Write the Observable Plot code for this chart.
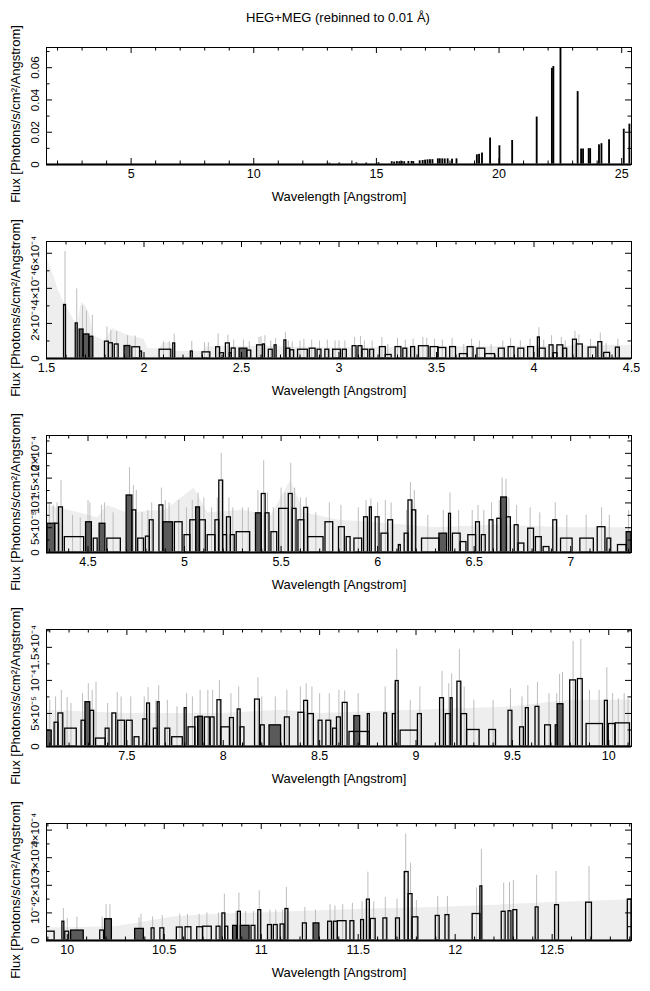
<!DOCTYPE html>
<html><head><meta charset="utf-8">
<script src="https://cdn.jsdelivr.net/npm/d3@7"></script>
<script src="https://cdn.jsdelivr.net/npm/@observablehq/plot@0.6"></script>
<style>
html,body{margin:0;padding:0;background:#fff;overflow:hidden;width:650px;height:991px}
#title{height:30px;box-sizing:border-box;padding-top:10px;line-height:15px;text-align:center;padding-left:26px;font:13px "Liberation Sans",Arial,sans-serif;color:#000}
svg{display:block}
</style></head><body>
<div id="title">HEG+MEG (rebinned to 0.01 Å)</div>
<div id="charts"></div>
<script>
const xTitle = "Wavelength [Angstrom]";
const yTitle = "Flux [Photons/s/cm²/Angstrom]";

// ---------- Panel 1 ----------
const p1XDomain = [1.55, 25.4];
const p1YDomain = [0, 0.0725];
const p1XTicks = [5, 10, 15, 20, 25];
const p1XMinor = [2,3,4,6,7,8,9,11,12,13,14,16,17,18,19,21,22,23,24];
const p1YTicks = [0, 0.02, 0.04, 0.06];
const p1YLabels = ["0", "0.02", "0.04", "0.06"];
const p1YMinor = [0.01, 0.03, 0.05, 0.07];
const p1Segs = [
  [13.1,13.11,0.0003,0],[13.5,13.51,0.0004,0],[14.2,14.21,0.0005,0],[14.6,14.61,0.0004,0],[15.1,15.11,0.0006,0],
  [15.64,15.65,0.0012,0],[15.74,15.75,0.001,0],[15.85,15.86,0.0013,0],[15.95,15.96,0.0012,0],[16.05,16.06,0.0014,0],[16.15,16.16,0.0012,0],
  [16.32,16.33,0.0014,0],[16.45,16.46,0.0014,0],[16.52,16.53,0.0013,0],
  [16.78,16.79,0.0018,0],[16.9,16.91,0.002,0],[17.0,17.01,0.0022,0],[17.1,17.11,0.0024,0],[17.2,17.21,0.0025,0],[17.3,17.31,0.0025,0],
  [17.52,17.53,0.003,0],[17.6,17.61,0.003,0],[17.7,17.71,0.003,0],[17.8,17.81,0.0029,0],[17.92,17.93,0.003,0],
  [18.1,18.11,0.0028,0],[18.28,18.29,0.003,0],
  [19.11,19.12,0.0055,0],[19.2,19.21,0.0058,0],[19.32,19.33,0.0066,0],[19.65,19.66,0.0159,0],[20.03,20.04,0.0111,0],
  [20.55,20.56,0.0144,0],[21.55,21.56,0.0289,0],[22.17,22.18,0.0591,0],[22.23,22.24,0.0602,0],[22.52,22.53,0.0715,0],
  [23.22,23.23,0.0447,0],[23.36,23.37,0.0091,0],[23.44,23.45,0.0091,0],[23.67,23.68,0.0093,0],[23.73,23.74,0.0093,0],
  [24.09,24.1,0.0117,0],[24.19,24.2,0.0124,0],[24.5,24.51,0.0148,0],[25.1,25.11,0.0214,0],[25.33,25.34,0.0245,0]
];
const p1Err = [];
const p1Env = [];

// ---------- Panel 2 ----------
const p2XDomain = [1.5, 4.5];
const p2YDomain = [0, 6.67e-4];
const p2XTicks = [1.5, 2, 2.5, 3, 3.5, 4, 4.5];
const p2XMinor = [1.6,1.7,1.8,1.9,2.1,2.2,2.3,2.4,2.6,2.7,2.8,2.9,3.1,3.2,3.3,3.4,3.6,3.7,3.8,3.9,4.1,4.2,4.3,4.4];
const p2YTicks = [0, 2e-4, 4e-4, 6e-4];
const p2YLabels = ["0", "2×10⁻⁴", "4×10⁻⁴", "6×10⁻⁴"];
const p2YMinor = [1e-4, 3e-4, 5e-4];
const p2Segs = [
  [1.59,1.60,3.05e-4,0],[1.65,1.66,2.0e-4,0],[1.67,1.69,1.65e-4,1],[1.69,1.72,1.37e-4,1],[1.72,1.74,1.24e-4,1],
  [1.80,1.82,0.96e-4,0],[1.82,1.84,0.87e-4,0],[1.85,1.87,0.80e-4,0],[1.90,1.93,0.71e-4,1],[1.94,1.98,0.64e-4,0],[1.98,1.99,0.4e-4,0],
  [2.08,2.14,0.5e-4,0],[2.15,2.16,0.86e-4,0],[2.24,2.25,0.4e-4,0],[2.30,2.34,0.35e-4,0],[2.37,2.39,0.64e-4,0],[2.39,2.41,0.3e-4,0],
  [2.42,2.44,0.86e-4,0],[2.44,2.45,0.3e-4,0],[2.45,2.47,0.57e-4,0],[2.49,2.53,0.56e-4,1],[2.53,2.55,0.45e-4,0],[2.58,2.61,0.75e-4,0],
  [2.61,2.62,0.8e-4,0],[2.64,2.66,0.5e-4,0],[2.67,2.68,0.75e-4,0],[2.72,2.73,1.03e-4,0],[2.73,2.75,0.56e-4,0],[2.75,2.77,0.47e-4,0],
  [2.79,2.84,0.5e-4,0],[2.85,2.88,0.56e-4,0],[2.89,2.91,0.5e-4,0],[2.93,2.95,0.5e-4,0],[2.97,3.01,0.5e-4,0],[3.02,3.04,0.5e-4,0],
  [3.07,3.09,0.7e-4,0],[3.10,3.12,0.7e-4,0],[3.12,3.15,0.5e-4,0],[3.16,3.18,0.5e-4,0],[3.21,3.24,0.65e-4,0],[3.24,3.27,0.2e-4,0],
  [3.29,3.32,0.65e-4,0],[3.33,3.35,0.56e-4,0],[3.37,3.39,0.65e-4,0],[3.41,3.46,0.7e-4,0],[3.47,3.51,0.65e-4,0],[3.51,3.55,0.6e-4,0],
  [3.57,3.60,0.65e-4,0],[3.62,3.66,0.25e-4,0],[3.66,3.69,0.65e-4,0],[3.71,3.75,0.56e-4,0],[3.75,3.80,0.25e-4,0],[3.82,3.85,0.56e-4,0],
  [3.87,3.90,0.65e-4,0],[3.92,3.95,0.56e-4,0],[3.97,4.00,0.65e-4,0],[4.02,4.03,1.2e-4,0],[4.03,4.06,0.56e-4,0],[4.08,4.10,0.75e-4,0],
  [4.10,4.12,0.3e-4,0],[4.12,4.15,0.75e-4,0],[4.15,4.17,0.56e-4,0],[4.20,4.22,1.07e-4,0],[4.22,4.25,0.8e-4,0],[4.28,4.32,0.62e-4,0],
  [4.33,4.35,0.93e-4,0],[4.36,4.39,0.32e-4,0],[4.42,4.44,0.62e-4,0]
];
const p2Err = [
  [1.595,6.1e-4],[1.655,3.97e-4],[1.685,3.0e-4],[1.705,2.7e-4],[1.735,2.46e-4],[1.81,1.8e-4],[1.83,1.6e-4],[1.86,1.53e-4],
  [1.915,1.3e-4],[1.955,1.28e-4],[2.155,1.39e-4],[2.245,0.97e-4],[2.38,1.4e-4],[2.43,1.33e-4],[2.6,1.25e-4],[2.62,1.3e-4],
  [2.725,1.5e-4],[2.82,1.1e-4],[2.94,1.05e-4],[3.08,1.2e-4],[3.11,1.25e-4],[3.22,1.2e-4],[3.3,1.15e-4],[3.43,1.2e-4],
  [3.58,1.15e-4],[3.68,1.1e-4],[3.88,1.15e-4],[4.025,1.75e-4],[4.09,1.3e-4],[4.21,1.55e-4],[4.23,1.35e-4],[4.34,1.45e-4],[4.43,1.1e-4],
  [2.1,0.95e-4],[2.13,0.95e-4],[2.31,0.9e-4],[2.33,0.9e-4],[2.46,1.05e-4],[2.51,1.05e-4],[2.54,0.95e-4],[2.59,1.2e-4],[2.65,1.0e-4],
  [2.675,1.15e-4],[2.74,1.0e-4],[2.76,0.95e-4],[2.8,1.0e-4],[2.86,1.05e-4],[2.9,1.0e-4],[2.98,1.0e-4],[3.0,1.0e-4],[3.03,1.0e-4],
  [3.13,1.0e-4],[3.17,1.0e-4],[3.25,0.8e-4],[3.34,1.05e-4],[3.38,1.1e-4],[3.45,1.15e-4],[3.49,1.1e-4],[3.53,1.05e-4],[3.64,0.8e-4],
  [3.72,1.0e-4],[3.78,0.8e-4],[3.84,1.0e-4],[3.93,1.0e-4],[3.98,1.1e-4],[4.05,1.05e-4],[4.14,1.2e-4],[4.16,1.0e-4],[4.29,1.1e-4],[4.37,0.85e-4]
];
const p2Env = [
  [1.5,5.8e-4],[1.52,5.2e-4],[1.54,4.6e-4],[1.56,3.9e-4],[1.58,3.4e-4],[1.6,3.0e-4],[1.62,2.6e-4],[1.64,2.2e-4],[1.66,2.0e-4],
  [1.68,3.2e-4],[1.7,3.0e-4],[1.72,2.6e-4],[1.74,1.3e-4],[1.8,1.0e-4],[1.84,1.7e-4],[1.9,1.4e-4],[1.96,1.2e-4],[2.0,1.1e-4],
  [2.02,0.55e-4],[2.08,0.55e-4],[2.1,0.9e-4],[2.14,0.85e-4],[2.16,0.4e-4],[2.3,0.4e-4],[2.32,0.65e-4],[2.6,0.7e-4],[3.0,0.6e-4],
  [3.5,0.65e-4],[4.0,0.7e-4],[4.5,0.75e-4]
];

// ---------- Panel 3 ----------
const p3XDomain = [4.285, 7.315];
const p3YDomain = [0, 2.36e-4];
const p3XTicks = [4.5, 5, 5.5, 6, 6.5, 7];
const p3XMinor = [4.3,4.4,4.6,4.7,4.8,4.9,5.1,5.2,5.3,5.4,5.6,5.7,5.8,5.9,6.1,6.2,6.3,6.4,6.6,6.7,6.8,6.9,7.1,7.2,7.3];
const p3YTicks = [0, 5e-5, 1e-4, 1.5e-4, 2e-4];
const p3YLabels = ["0", "5×10⁻⁵", "10⁻⁴", "1.5×10⁻⁴", "2×10⁻⁴"];
const p3YMinor = [2.5e-5, 7.5e-5, 1.25e-4, 1.75e-4, 2.25e-4];
const p3Segs = [
  [4.29,4.33,0.58e-4,1],[4.33,4.35,0.58e-4,0],[4.35,4.37,0.91e-4,0],[4.38,4.48,0.31e-4,0],[4.49,4.52,0.61e-4,1],[4.53,4.55,0.28e-4,0],
  [4.56,4.59,0.58e-4,1],[4.60,4.67,0.28e-4,0],[4.70,4.73,1.15e-4,1],[4.73,4.75,0.85e-4,0],[4.76,4.79,0.28e-4,0],[4.80,4.82,0.32e-4,0],
  [4.82,4.84,0.65e-4,0],[4.87,4.89,0.95e-4,0],[4.89,4.94,0.61e-4,1],[4.95,4.99,0.61e-4,0],[5.00,5.03,0.35e-4,0],[5.03,5.06,0.65e-4,0],
  [5.06,5.08,0.91e-4,1],[5.08,5.11,0.65e-4,0],[5.12,5.16,0.35e-4,0],[5.16,5.18,0.65e-4,0],[5.18,5.20,1.45e-4,0],[5.20,5.22,0.35e-4,0],
  [5.22,5.24,0.71e-4,0],[5.24,5.26,0.35e-4,0],[5.27,5.34,0.41e-4,0],[5.37,5.40,0.79e-4,1],[5.40,5.42,1.18e-4,0],[5.42,5.44,0.79e-4,0],
  [5.45,5.48,0.41e-4,0],[5.49,5.54,0.88e-4,0],[5.54,5.56,1.18e-4,0],[5.56,5.58,0.88e-4,0],[5.59,5.62,0.65e-4,0],[5.62,5.64,0.9e-4,0],
  [5.64,5.72,0.31e-4,0],[5.73,5.77,0.61e-4,0],[5.80,5.83,0.51e-4,0],[5.84,5.86,0.31e-4,0],[5.88,5.92,0.28e-4,0],[5.93,5.95,0.71e-4,0],
  [5.96,5.97,0.91e-4,0],[5.99,6.01,0.71e-4,0],[6.02,6.055,0.38e-4,0],[6.055,6.08,0.65e-4,0],[6.11,6.12,0.15e-4,0],[6.14,6.16,0.38e-4,0],
  [6.16,6.18,1.05e-4,0],[6.18,6.20,0.85e-4,0],[6.23,6.32,0.28e-4,0],[6.32,6.36,0.38e-4,1],[6.37,6.38,0.78e-4,0],[6.39,6.43,0.38e-4,0],
  [6.43,6.46,0.21e-4,0],[6.47,6.51,0.35e-4,0],[6.51,6.53,0.61e-4,0],[6.54,6.56,0.35e-4,0],[6.58,6.60,0.65e-4,0],[6.62,6.64,0.68e-4,0],
  [6.64,6.67,1.11e-4,1],[6.67,6.69,0.71e-4,0],[6.71,6.73,0.55e-4,0],[6.73,6.76,0.18e-4,0],[6.78,6.81,0.48e-4,0],[6.82,6.85,0.31e-4,0],
  [6.86,6.89,0.11e-4,0],[6.91,6.93,0.65e-4,0],[6.95,7.01,0.28e-4,0],[7.05,7.12,0.28e-4,0],[7.14,7.18,0.51e-4,0],[7.19,7.21,0.28e-4,0],
  [7.245,7.29,0.15e-4,0],[7.29,7.315,0.41e-4,1]
];
const p3Err = [
  [4.36,1.45e-4],[4.5,1.05e-4],[4.57,0.95e-4],[4.715,1.71e-4],[4.735,1.35e-4],[4.83,1.0e-4],[4.88,1.3e-4],[4.92,1.0e-4],
  [5.04,1.05e-4],[5.07,1.2e-4],[5.19,2.0e-4],[5.23,1.1e-4],[5.38,1.25e-4],[5.41,1.85e-4],[5.43,1.2e-4],[5.52,1.2e-4],
  [5.55,1.8e-4],[5.63,1.1e-4],[5.75,1.0e-4],[5.94,1.05e-4],[5.965,1.08e-4],[6.0,1.0e-4],[6.17,1.41e-4],[6.19,1.25e-4],
  [6.375,1.2e-4],[6.52,0.95e-4],[6.59,1.0e-4],[6.645,1.5e-4],[6.665,1.48e-4],[6.68,1.1e-4],[6.72,0.95e-4],[6.92,1.0e-4],[7.16,0.9e-4],
  [4.3,1.0e-4],[4.32,0.95e-4],[4.34,1.0e-4],[4.42,0.75e-4],[4.46,0.7e-4],[4.51,1.0e-4],[4.585,1.0e-4],[4.63,0.8e-4],[4.75,1.25e-4],
  [4.78,0.8e-4],[4.81,0.85e-4],[4.9,1.05e-4],[4.97,1.05e-4],[5.01,0.9e-4],[5.1,1.1e-4],[5.14,0.9e-4],[5.17,1.1e-4],[5.25,0.9e-4],
  [5.3,0.9e-4],[5.33,0.9e-4],[5.46,0.9e-4],[5.5,1.3e-4],[5.57,1.3e-4],[5.6,1.1e-4],[5.68,0.8e-4],[5.81,0.95e-4],[5.9,0.9e-4],
  [6.04,1.05e-4],[6.07,1.0e-4],[6.15,0.85e-4],[6.26,0.75e-4],[6.34,0.85e-4],[6.42,0.85e-4],[6.49,0.85e-4],[6.55,0.85e-4],[6.63,1.05e-4],
  [6.79,0.9e-4],[6.84,0.8e-4],[6.98,0.75e-4],[7.08,0.75e-4],[7.2,0.75e-4],[7.3,0.85e-4]
];
const p3Env = [
  [4.285,0.95e-4],[4.4,0.85e-4],[4.55,0.7e-4],[4.6,0.95e-4],[4.7,0.8e-4],[4.9,0.85e-4],[5.05,1.3e-4],[5.12,0.8e-4],[5.3,0.85e-4],
  [5.45,0.75e-4],[5.55,1.45e-4],[5.62,0.8e-4],[5.8,0.65e-4],[6.0,0.6e-4],[6.3,0.5e-4],[6.6,0.55e-4],[7.0,0.5e-4],[7.315,0.5e-4]
];

// ---------- Panel 4 ----------
const p4XDomain = [7.083, 10.118];
const p4YDomain = [0, 1.77e-4];
const p4XTicks = [7.5, 8, 8.5, 9, 9.5, 10];
const p4XMinor = [7.1,7.2,7.3,7.4,7.6,7.7,7.8,7.9,8.1,8.2,8.3,8.4,8.6,8.7,8.8,8.9,9.1,9.2,9.3,9.4,9.6,9.7,9.8,9.9,10.1];
const p4YTicks = [0, 5e-5, 1e-4, 1.5e-4];
const p4YLabels = ["0", "5×10⁻⁵", "10⁻⁴", "1.5×10⁻⁴"];
const p4YMinor = [2.5e-5, 7.5e-5, 1.25e-4, 1.75e-4];
const p4Segs = [
  [7.083,7.11,0.24e-4,1],[7.125,7.145,0.36e-4,0],[7.145,7.17,0.5e-4,0],[7.18,7.24,0.27e-4,0],[7.265,7.285,0.39e-4,0],[7.285,7.31,0.67e-4,1],
  [7.31,7.33,0.54e-4,0],[7.34,7.39,0.12e-4,0],[7.39,7.41,0.27e-4,0],[7.425,7.445,0.5e-4,0],[7.455,7.49,0.39e-4,0],[7.5,7.53,0.39e-4,0],
  [7.54,7.565,0.14e-4,0],[7.585,7.605,0.41e-4,0],[7.605,7.62,0.65e-4,0],[7.64,7.66,0.27e-4,0],[7.66,7.67,0.67e-4,0],[7.70,7.725,0.27e-4,0],
  [7.735,7.79,0.14e-4,0],[7.80,7.81,0.58e-4,0],[7.82,7.855,0.29e-4,0],[7.855,7.87,0.44e-4,0],[7.87,7.895,0.45e-4,1],[7.905,7.93,0.44e-4,0],
  [7.935,7.955,0.44e-4,0],[7.97,7.99,0.7e-4,0],[7.99,8.035,0.29e-4,0],[8.035,8.055,0.43e-4,0],[8.075,8.09,0.56e-4,0],[8.09,8.11,0.29e-4,0],
  [8.165,8.19,0.71e-4,0],[8.195,8.215,0.32e-4,0],[8.24,8.30,0.32e-4,1],[8.32,8.345,0.44e-4,0],[8.39,8.42,0.51e-4,0],[8.42,8.44,0.69e-4,0],
  [8.44,8.47,0.49e-4,0],[8.495,8.515,0.39e-4,0],[8.535,8.56,0.39e-4,0],[8.57,8.59,0.27e-4,0],[8.59,8.61,0.44e-4,0],[8.62,8.645,0.66e-4,0],
  [8.655,8.76,0.22e-4,0],[8.68,8.71,0.46e-4,1],[8.75,8.76,0.49e-4,0],[8.835,8.85,0.5e-4,0],[8.88,8.895,0.49e-4,0],[8.895,8.91,0.99e-4,0],
  [8.92,9.01,0.24e-4,0],[9.01,9.03,0.49e-4,0],[9.125,9.145,0.73e-4,0],[9.155,9.18,0.49e-4,0],[9.18,9.19,0.73e-4,0],[9.215,9.235,0.98e-4,0],
  [9.235,9.265,0.49e-4,0],[9.265,9.33,0.25e-4,0],[9.38,9.415,0.25e-4,0],[9.48,9.50,0.54e-4,0],[9.54,9.56,0.29e-4,0],[9.57,9.585,0.58e-4,0],
  [9.62,9.64,0.6e-4,0],[9.67,9.70,0.32e-4,0],[9.725,9.735,0.32e-4,0],[9.735,9.765,0.64e-4,1],[9.80,9.83,1.0e-4,0],[9.84,9.865,1.02e-4,0],
  [9.885,9.97,0.34e-4,0],[9.98,9.995,0.69e-4,0],[10.0,10.035,0.34e-4,0],[10.035,10.11,0.35e-4,0]
];
const p4Err = [
  [7.19,0.74e-4],[7.3,0.95e-4],[7.34,0.97e-4],[7.45,0.82e-4],[7.61,0.89e-4],[7.665,0.92e-4],[7.81,0.8e-4],[7.98,1.0e-4],[8.18,1.04e-4],
  [8.43,0.95e-4],[8.63,0.84e-4],[8.9,1.47e-4],[9.135,1.14e-4],[9.185,1.1e-4],[9.225,1.47e-4],[9.49,0.87e-4],[9.58,0.92e-4],
  [9.63,0.97e-4],[9.745,1.09e-4],[9.76,1.12e-4],[9.815,1.59e-4],[9.855,1.62e-4],[9.99,1.19e-4],[10.05,0.72e-4],[10.1,0.72e-4],
  [7.1,0.7e-4],[7.13,0.75e-4],[7.16,0.85e-4],[7.21,0.65e-4],[7.27,0.8e-4],[7.32,0.85e-4],[7.4,0.65e-4],[7.47,0.75e-4],[7.52,0.75e-4],
  [7.59,0.75e-4],[7.65,0.7e-4],[7.71,0.7e-4],[7.76,0.6e-4],[7.84,0.75e-4],[7.88,0.85e-4],[7.92,0.85e-4],[7.945,0.85e-4],[8.04,0.8e-4],
  [8.08,0.9e-4],[8.2,0.75e-4],[8.27,0.75e-4],[8.33,0.85e-4],[8.4,0.9e-4],[8.46,0.9e-4],[8.5,0.8e-4],[8.55,0.8e-4],[8.6,0.85e-4],
  [8.7,0.8e-4],[8.84,0.9e-4],[8.89,0.95e-4],[8.97,0.7e-4],[9.02,0.9e-4],[9.17,0.95e-4],[9.25,0.9e-4],[9.3,0.7e-4],[9.4,0.7e-4],
  [9.55,0.75e-4],[9.69,0.8e-4],[9.73,0.8e-4],[9.9,0.85e-4],[9.95,0.85e-4],[10.02,0.8e-4],[10.08,0.8e-4]
];
const p4Env = [
  [7.083,0.55e-4],[7.5,0.5e-4],[8.0,0.5e-4],[8.3,0.55e-4],[8.5,0.5e-4],[9.0,0.55e-4],[9.5,0.6e-4],[9.8,0.7e-4],[10.118,0.7e-4]
];

// ---------- Panel 5 ----------
const p5XDomain = [9.893, 12.909];
const p5YDomain = [0, 4.24e-4];
const p5XTicks = [10, 10.5, 11, 11.5, 12, 12.5];
const p5XMinor = [9.9,10.1,10.2,10.3,10.4,10.6,10.7,10.8,10.9,11.1,11.2,11.3,11.4,11.6,11.7,11.8,11.9,12.1,12.2,12.3,12.4,12.6,12.7,12.8,12.9];
const p5YTicks = [0, 1e-4, 2e-4, 3e-4, 4e-4];
const p5YLabels = ["0", "10⁻⁴", "2×10⁻⁴", "3×10⁻⁴", "4×10⁻⁴"];
const p5YMinor = [5e-5, 1.5e-4, 2.5e-4, 3.5e-4];
const p5Segs = [
  [9.893,9.935,0.32e-4,0],[9.975,9.985,0.68e-4,0],[9.99,10.01,0.32e-4,0],[10.02,10.085,0.36e-4,1],[10.17,10.19,0.36e-4,0],[10.195,10.23,0.77e-4,1],
  [10.35,10.395,0.42e-4,1],[10.435,10.45,0.44e-4,0],[10.48,10.50,0.44e-4,0],[10.565,10.595,0.47e-4,0],[10.61,10.64,0.48e-4,0],[10.67,10.70,0.48e-4,0],
  [10.70,10.745,0.5e-4,0],[10.77,10.79,0.5e-4,0],[10.80,10.815,0.98e-4,0],[10.815,10.83,0.5e-4,0],[10.855,10.875,0.53e-4,1],[10.88,10.895,1.04e-4,0],
  [10.895,10.94,0.53e-4,1],[10.95,10.97,0.53e-4,0],[10.985,11.0,1.1e-4,0],[11.035,11.055,0.56e-4,0],[11.065,11.085,0.56e-4,0],[11.1,11.12,0.58e-4,0],
  [11.125,11.14,1.14e-4,0],[11.215,11.235,0.62e-4,0],[11.27,11.30,0.62e-4,1],[11.345,11.365,0.68e-4,0],[11.375,11.395,0.68e-4,0],[11.395,11.44,0.7e-4,0],
  [11.46,11.48,0.7e-4,0],[11.515,11.53,0.74e-4,0],[11.545,11.56,1.48e-4,0],[11.565,11.59,0.78e-4,0],[11.63,11.65,0.8e-4,0],[11.695,11.715,0.8e-4,0],
  [11.74,11.76,2.48e-4,0],[11.76,11.78,1.68e-4,0],[11.78,11.81,0.84e-4,0],[11.90,11.92,0.89e-4,0],[11.95,11.97,0.92e-4,0],[12.09,12.13,0.96e-4,0],
  [12.13,12.14,1.96e-4,0],[12.24,12.26,1.04e-4,0],[12.275,12.29,1.06e-4,0],[12.30,12.32,1.1e-4,0],[12.415,12.43,1.2e-4,0],[12.515,12.535,1.28e-4,0],
  [12.675,12.705,1.37e-4,0],[12.89,12.909,1.48e-4,0]
];
const p5Err = [
  [9.98,1.16e-4],[10.2,1.3e-4],[10.22,1.3e-4],[10.37,0.82e-4],[10.44,0.85e-4],[10.58,0.95e-4],[10.81,1.68e-4],[10.885,1.72e-4],[10.99,1.8e-4],
  [11.13,1.92e-4],[11.28,1.1e-4],[11.38,1.25e-4],[11.42,1.3e-4],[11.55,2.48e-4],[11.58,1.4e-4],[11.64,1.56e-4],[11.745,3.86e-4],
  [11.77,2.8e-4],[11.91,1.6e-4],[12.135,3.3e-4],[12.25,2.08e-4],[12.3,2.18e-4],[12.42,2.36e-4],[12.52,2.5e-4],[12.69,2.68e-4],
  [10.0,0.8e-4],[10.05,0.85e-4],[10.18,0.85e-4],[10.38,0.95e-4],[10.49,0.9e-4],[10.62,0.95e-4],[10.68,0.95e-4],[10.72,1.0e-4],
  [10.78,1.0e-4],[10.87,1.05e-4],[10.92,1.05e-4],[10.96,1.05e-4],[11.045,1.1e-4],[11.075,1.1e-4],[11.11,1.1e-4],[11.225,1.2e-4],
  [11.355,1.3e-4],[11.47,1.35e-4],[11.52,1.4e-4],[11.7,1.5e-4],[11.8,1.45e-4],[11.96,1.6e-4],[12.11,1.9e-4],[12.28,2.1e-4]
];
const p5Env = [
  [9.893,0.45e-4],[10.25,0.5e-4],[10.55,0.85e-4],[10.75,0.95e-4],[11.0,1.0e-4],[11.3,1.08e-4],[11.6,1.15e-4],[11.9,1.2e-4],
  [12.2,1.28e-4],[12.5,1.38e-4],[12.909,1.48e-4]
];

const FONT = "'Liberation Sans', Arial, Helvetica, sans-serif";

function makePanel(p) {
  const W = 650, H = 194, mt = 17, mb = 60, ml = 46, mr = 19;
  const fh = H - mt - mb, fw = W - ml - mr;
  const segs = p.segs.map(([x1, x2, v, d]) => ({x1, x2, v, d}));
  const yLab = new Map(p.yTicks.map((t, i) => [t, p.yLabels[i]]));
  return Plot.plot({
    width: W, height: H, marginTop: mt, marginBottom: mb, marginLeft: ml, marginRight: mr,
    x: {domain: p.xDomain},
    y: {domain: p.yDomain},
    style: {fontFamily: FONT, background: "white", overflow: "visible", color: "black"},
    marks: [
      Plot.areaY(p.env, {x: d => d[0], y: d => d[1], fill: "#eeeeee", curve: "linear", clip: true}),
      Plot.ruleX(p.err, {x: d => d[0], y1: 0, y2: d => d[1], stroke: "#bdbdbd", strokeWidth: 1, clip: true}),
      Plot.rectY(segs.filter(s => s.d), {x1: "x1", x2: "x2", y: "v", fill: "#5a5a5a", clip: true}),
      Plot.rectY(segs, {x1: "x1", x2: "x2", y: "v", fill: "none", stroke: "black", strokeWidth: p.sw, clip: true}),
      Plot.ruleY([0], {stroke: "#444", strokeWidth: 2.5}),
      Plot.frame({stroke: "black"}),
      Plot.ruleX(p.xMinor, {x: d => d, insetTop: fh - 3.5, stroke: "black"}),
      Plot.ruleX(p.xMinor, {x: d => d, insetBottom: fh - 3.5, stroke: "black"}),
      Plot.ruleX(p.xTicks, {x: d => d, insetTop: fh - 6, stroke: "black"}),
      Plot.ruleX(p.xTicks, {x: d => d, insetBottom: fh - 6, stroke: "black"}),
      Plot.ruleY(p.yMinor, {y: d => d, insetRight: fw - 3.5, stroke: "black"}),
      Plot.ruleY(p.yMinor, {y: d => d, insetLeft: fw - 3.5, stroke: "black"}),
      Plot.ruleY(p.yTicks, {y: d => d, insetRight: fw - 6, stroke: "black"}),
      Plot.ruleY(p.yTicks, {y: d => d, insetLeft: fw - 6, stroke: "black"}),
      Plot.axisX({ticks: p.xTicks, tickSize: 0, tickPadding: 5, tickFormat: d => String(d), fontSize: 12.5, label: null}),
      Plot.axisY({ticks: p.yTicks, tickSize: 0, tickPadding: 8, tickRotate: -90, tickFormat: d => yLab.get(d), fontSize: 11.5, label: null}),
      Plot.text([xTitle], {frameAnchor: "bottom", dy: 32, lineAnchor: "middle", textAnchor: "middle", fontSize: 13}),
      Plot.text([yTitle], {frameAnchor: "left", dx: -27, dy: 8, rotate: -90, lineAnchor: "bottom", textAnchor: "middle", fontSize: 13})
    ]
  });
}

const panels = [
  {xDomain: p1XDomain, yDomain: p1YDomain, xTicks: p1XTicks, xMinor: p1XMinor, yTicks: p1YTicks, yLabels: p1YLabels, yMinor: p1YMinor, segs: p1Segs, err: p1Err, env: p1Env, sw: 1.6},
  {xDomain: p2XDomain, yDomain: p2YDomain, xTicks: p2XTicks, xMinor: p2XMinor, yTicks: p2YTicks, yLabels: p2YLabels, yMinor: p2YMinor, segs: p2Segs, err: p2Err, env: p2Env, sw: 1.3},
  {xDomain: p3XDomain, yDomain: p3YDomain, xTicks: p3XTicks, xMinor: p3XMinor, yTicks: p3YTicks, yLabels: p3YLabels, yMinor: p3YMinor, segs: p3Segs, err: p3Err, env: p3Env, sw: 1.3},
  {xDomain: p4XDomain, yDomain: p4YDomain, xTicks: p4XTicks, xMinor: p4XMinor, yTicks: p4YTicks, yLabels: p4YLabels, yMinor: p4YMinor, segs: p4Segs, err: p4Err, env: p4Env, sw: 1.3},
  {xDomain: p5XDomain, yDomain: p5YDomain, xTicks: p5XTicks, xMinor: p5XMinor, yTicks: p5YTicks, yLabels: p5YLabels, yMinor: p5YMinor, segs: p5Segs, err: p5Err, env: p5Env, sw: 1.3}
];
const holder = document.getElementById("charts");
for (const p of panels) holder.appendChild(makePanel(p));
</script>
</body></html>
